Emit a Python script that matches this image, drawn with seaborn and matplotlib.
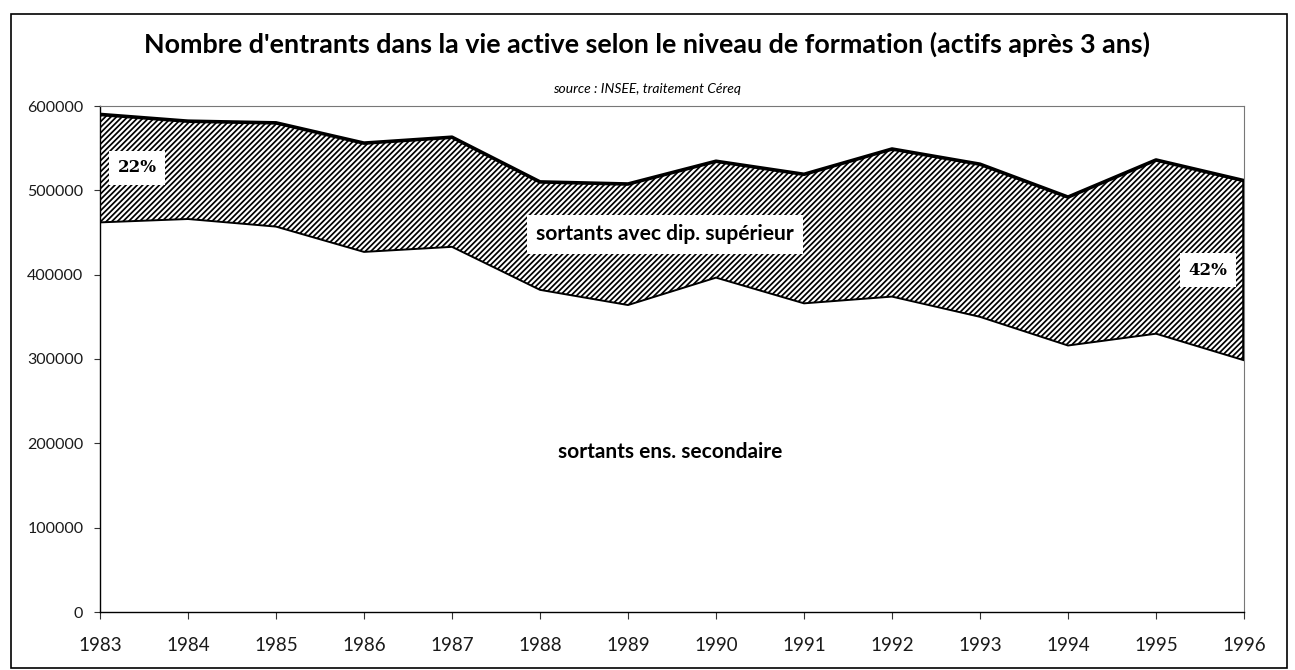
import numpy as np
import pandas as pd
import seaborn as sns
import matplotlib
matplotlib.use("Agg")
import matplotlib.pyplot as plt
from matplotlib.patches import Rectangle

# ---------------- data ----------------
years = [1983, 1984, 1985, 1986, 1987, 1988, 1989, 1990, 1991, 1992, 1993, 1994, 1995, 1996]
secondaire = [462000, 466000, 457000, 427000, 433000, 382000, 364000, 396500, 366000,
              374000, 350000, 316000, 330000, 298500]
superieur = [128000, 116000, 123000, 129000, 130000, 128000, 143500, 138000, 153000,
             175000, 181000, 176000, 206000, 213000]
y_ticks = [0, 100000, 200000, 300000, 400000, 500000, 600000]
title = "Nombre d'entrants dans la vie active selon le niveau de formation (actifs après 3 ans)"
subtitle = "source : INSEE, traitement Céreq"
label_sup = "sortants avec dip. supérieur"
label_sec = "sortants ens. secondaire"
pct_first = "22%"
pct_last = "42%"

# ---------------- style ----------------
sns.set_theme(style="white")
plt.rcParams["font.family"] = ["Lato", "DejaVu Sans"]
plt.rcParams["hatch.linewidth"] = 1.25
plt.rcParams["hatch.color"] = "black"

W, H = 1295, 670
fig = plt.figure(figsize=(W / 100, H / 100), dpi=100)
fig.patch.set_facecolor("white")
L, R, T, B = 100, 1244, 106, 612
ax = fig.add_axes([L / W, 1 - B / H, (R - L) / W, (B - T) / H])
ax.set_facecolor("white")

df = pd.DataFrame({"annee": years,
                   "secondaire": secondaire,
                   "total": np.add(secondaire, superieur)})

ax.fill_between(df["annee"], df["secondaire"], df["total"], facecolor="white",
                edgecolor="black", hatch="//////", linewidth=0, zorder=1)
sns.lineplot(data=df, x="annee", y="total", color="black", linewidth=2.6, ax=ax, zorder=3)
sns.lineplot(data=df, x="annee", y="secondaire", color="black", linewidth=1.4, ax=ax, zorder=3)
ax.vlines(df["annee"].iloc[-1], df["secondaire"].iloc[-1], df["total"].iloc[-1],
          color="black", linewidth=2.6, zorder=3)
ax.vlines(df["annee"].iloc[0], df["secondaire"].iloc[0], df["total"].iloc[0],
          color="black", linewidth=1.2, zorder=3)

ax.set_xlim(years[0], years[-1])
ax.set_ylim(0, 600000)
ax.set_xticks(years)
ax.set_xticklabels([str(y) for y in years])
ax.set_yticks(y_ticks)
ax.set_yticklabels([str(v) for v in y_ticks])
ax.set_xlabel("")
ax.set_ylabel("")
ax.tick_params(axis="y", left=True, direction="out", length=4, width=0.8,
               pad=8, labelsize=11.5, labelcolor="#1a1a1a", color="#333333")
ax.tick_params(axis="x", bottom=True, direction="out", length=5, width=0.8,
               pad=13, labelsize=13.5, labelcolor="#1a1a1a", color="#333333")
for lab in ax.get_yticklabels() + ax.get_xticklabels():
    lab.set_fontweight("normal")

for side in ["left", "bottom"]:
    ax.spines[side].set_color("black")
    ax.spines[side].set_linewidth(1.0)
for side in ["top", "right"]:
    ax.spines[side].set_color("#777777")
    ax.spines[side].set_linewidth(0.8)

# ---------------- annotations ----------------
box = dict(boxstyle="square,pad=0.45", facecolor="white", edgecolor="none")
t_sup = ax.text(1989.42, 448000, label_sup, ha="center", va="center", fontsize=13,
                fontweight="bold", color="black", bbox=box, zorder=5)
t_sec = ax.text(1989.48, 190000, label_sec, ha="center", va="center", fontsize=13,
                fontweight="bold", color="black", zorder=5)
t_p1 = ax.text(1983.42, 526500, pct_first, ha="center", va="center", fontsize=12,
               fontweight="bold", color="black", family=["DejaVu Serif"],
               bbox=dict(boxstyle="square,pad=0.5", facecolor="white", edgecolor="none"), zorder=5)
t_p2 = ax.text(1995.59, 405500, pct_last, ha="center", va="center", fontsize=12,
               fontweight="bold", color="black", family=["DejaVu Serif"],
               bbox=dict(boxstyle="square,pad=0.5", facecolor="white", edgecolor="none"), zorder=5)

t_title = fig.text(0.5, 1 - 53 / H, title, ha="center", va="baseline",
                   fontsize=16, fontweight="bold", color="black")
t_sub = fig.text(0.5, 1 - 89 / H, subtitle, ha="center", va="center",
                 fontsize=10, fontstyle="italic", color="black")

# fit text widths to the reference
fig.canvas.draw()
r = fig.canvas.get_renderer()
for txt, target in [(t_title, 1010), (t_sup, 257), (t_sec, 224)]:
    w = txt.get_window_extent(renderer=r).width
    txt.set_fontsize(txt.get_fontsize() * target / w)

# outer frame
fig.patches.append(Rectangle((11 / W, 2 / H), (1287 - 11) / W, (656 - 2) / H,
                             transform=fig.transFigure, fill=False,
                             edgecolor="black", linewidth=1.2))

fig.savefig("out.png", dpi=100, facecolor="white")
